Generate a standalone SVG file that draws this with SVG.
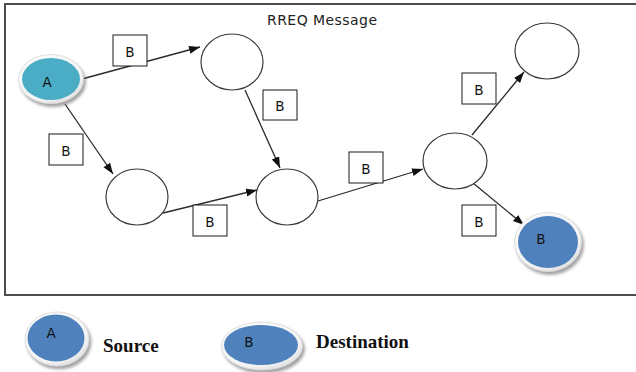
<svg xmlns="http://www.w3.org/2000/svg" width="636" height="372" viewBox="0 0 636 372">
  <style>
    .frame { fill: none; stroke: #4d4d4d; stroke-width: 2; }
    .plain { fill: #ffffff; stroke: #3a3a3a; stroke-width: 1.2; }
    .rim { fill: url(#rimGrad); stroke: #d8d8d8; stroke-width: 0.8; filter: url(#soft); }
    .aqua { fill: #4bacc6; }
    .blue { fill: #4f81bd; }
    .edge { fill: none; stroke: #2a2a2a; stroke-width: 1.3; marker-end: url(#arrow); }
    .tag rect { fill: #ffffff; stroke: #1a1a1a; stroke-width: 1; }
    .txt { font-family: "DejaVu Sans", "Liberation Sans", sans-serif; font-size: 13.5px; fill: #111; text-anchor: middle; }
    .title { font-family: "DejaVu Sans", "Liberation Sans", sans-serif; font-size: 14px; fill: #222; }
    .legend { font-family: "Liberation Serif", "Times New Roman", serif; font-weight: bold; font-size: 19px; fill: #111; }
  </style>
  <defs>
    <marker id="arrow" markerUnits="userSpaceOnUse" markerWidth="12" markerHeight="9" refX="11" refY="4" orient="auto">
      <path d="M0,0 L11,4 L0,8 z" fill="#111"/>
    </marker>
    <radialGradient id="rimGrad" cx="0.4" cy="0.35" r="0.7">
      <stop offset="0" stop-color="#ffffff"/>
      <stop offset="0.8" stop-color="#f4f4f4"/>
      <stop offset="1" stop-color="#dcdcdc"/>
    </radialGradient>
    <filter id="soft" x="-20%" y="-20%" width="150%" height="150%">
      <feDropShadow dx="2" dy="3" stdDeviation="1.6" flood-color="#7a7a7a" flood-opacity="0.7"/>
    </filter>
  </defs>

  <!-- outer frame -->
  <rect class="frame" x="5" y="4" width="640" height="291"/>
  <text class="title" x="267" y="25" textLength="110">RREQ Message</text>

  <!-- connectors -->
  <g id="connectors">
    <line class="edge" x1="82" y1="79" x2="200" y2="47"/>
    <line class="edge" x1="65" y1="104" x2="113" y2="174"/>
    <line class="edge" x1="245" y1="90" x2="280" y2="168"/>
    <line class="edge" x1="163" y1="213" x2="257" y2="190"/>
    <line class="edge" x1="318" y1="201" x2="423" y2="169"/>
    <line class="edge" x1="472" y1="135" x2="524" y2="72"/>
    <line class="edge" x1="473" y1="183" x2="524" y2="225"/>
  </g>

  <!-- message tags -->
  <g id="tags">
    <g class="tag"><rect x="113" y="35" width="34" height="31"/><text class="txt" x="130" y="57">B</text></g>
    <g class="tag"><rect x="263" y="90" width="34" height="30"/><text class="txt" x="280" y="111">B</text></g>
    <g class="tag"><rect x="49" y="134" width="34" height="31"/><text class="txt" x="66" y="156">B</text></g>
    <g class="tag"><rect x="193" y="205" width="34" height="31"/><text class="txt" x="210" y="227">B</text></g>
    <g class="tag"><rect x="349" y="152" width="34" height="31"/><text class="txt" x="366" y="174">B</text></g>
    <g class="tag"><rect x="462" y="73" width="34" height="31"/><text class="txt" x="479" y="95">B</text></g>
    <g class="tag"><rect x="462" y="205" width="34" height="31"/><text class="txt" x="479" y="227">B</text></g>
  </g>

  <!-- nodes -->
  <g id="node-a">
    <ellipse class="rim" cx="51" cy="79" rx="32.5" ry="24.5"/>
    <ellipse class="aqua" cx="51" cy="79" rx="29" ry="21"/>
    <text class="txt" x="47" y="87">A</text>
  </g>
  <g id="node-1"><ellipse class="plain" cx="232" cy="62" rx="31" ry="28"/></g>
  <g id="node-2"><ellipse class="plain" cx="137" cy="197" rx="31" ry="28"/></g>
  <g id="node-3"><ellipse class="plain" cx="287" cy="197" rx="31" ry="28"/></g>
  <g id="node-4"><ellipse class="plain" cx="455" cy="161" rx="32" ry="28"/></g>
  <g id="node-5"><ellipse class="plain" cx="547" cy="51" rx="32" ry="28"/></g>
  <g id="node-b">
    <ellipse class="rim" cx="548" cy="242" rx="33.5" ry="29.5"/>
    <ellipse class="blue" cx="548" cy="242" rx="30" ry="26"/>
    <text class="txt" x="541" y="244">B</text>
  </g>

  <!-- legend -->
  <g id="legend-source">
    <ellipse class="rim" cx="57" cy="339" rx="32" ry="27"/>
    <ellipse class="blue" cx="56" cy="338" rx="28.5" ry="23.5"/>
    <text class="txt" x="51" y="338">A</text>
    <text class="legend" x="103" y="352">Source</text>
  </g>
  <g id="legend-destination">
    <ellipse class="rim" cx="262" cy="346" rx="40.5" ry="24"/>
    <ellipse class="blue" cx="261" cy="345" rx="37" ry="20"/>
    <text class="txt" x="249" y="347">B</text>
    <text class="legend" x="316" y="348">Destination</text>
  </g>
</svg>
